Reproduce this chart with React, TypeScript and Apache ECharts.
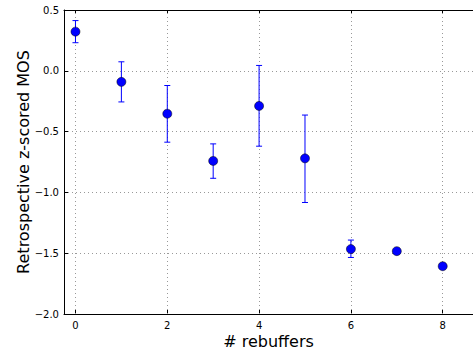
import React, { useEffect, useRef } from "react";
import * as echarts from "echarts";

const rebuffers = [0, 1, 2, 3, 4, 5, 6, 7, 8];
const meanMos = [0.322, -0.091, -0.353, -0.741, -0.289, -0.72, -1.466, -1.483, -1.607];
const errLow = [0.231, -0.256, -0.587, -0.884, -0.62, -1.083, -1.535, -1.5, -1.617];
const errHigh = [0.413, 0.074, -0.121, -0.601, 0.044, -0.364, -1.392, -1.466, -1.597];
const xTicks = [0, 2, 4, 6, 8];

const FONT = "DejaVu Sans";
const fmt = (v: number) => v.toFixed(1).replace("-", "\u2212");

export default function App() {
  const ref = useRef<HTMLDivElement>(null);
  useEffect(() => {
    if (!ref.current) return;
    const chart = echarts.init(ref.current, null, { renderer: "svg" });
    const points = rebuffers.map((x, i) => [x, meanMos[i]]);
    const bars = rebuffers.map((x, i) => [x, errLow[i], errHigh[i]]);
    chart.setOption({
      animation: false,
      backgroundColor: "#ffffff",
      textStyle: { fontFamily: FONT },
      grid: { left: 64, top: 10, right: 0, bottom: 37, outerBoundsMode: "none", containLabel: false },
      xAxis: [
        {
          type: "value",
          min: -0.25,
          max: 8.66,
          name: "# rebuffers",
          nameLocation: "middle",
          nameGap: 19,
          nameMoveOverlap: false,
          nameTextStyle: { fontFamily: FONT, fontSize: 16, color: "#000" },
          axisLine: { show: true, onZero: false, lineStyle: { color: "#000", width: 1 } },
          axisTick: { show: true, inside: true, length: 4, customValues: xTicks, lineStyle: { color: "#000" } },
          axisLabel: { show: true, customValues: xTicks, formatter: (v: number) => String(v), color: "#000", fontFamily: FONT, fontSize: 10, margin: 6 },
          splitLine: { show: false },
        },
        {
          type: "value",
          position: "top",
          min: -0.25,
          max: 8.66,
          axisLine: { show: true, onZero: false, lineStyle: { color: "#000", width: 1 } },
          axisTick: { show: true, inside: true, length: 4, customValues: xTicks, lineStyle: { color: "#000" } },
          axisLabel: { show: false },
          splitLine: { show: false },
        },
      ],
      yAxis: {
        type: "value",
        min: -2.0,
        max: 0.5,
        interval: 0.5,
        name: "Retrospective z-scored MOS",
        nameLocation: "middle",
        nameRotate: 90,
        nameGap: 33,
        nameMoveOverlap: false,
        nameTextStyle: { fontFamily: FONT, fontSize: 16, color: "#000" },
        axisLine: { show: true, onZero: false, lineStyle: { color: "#000", width: 1 } },
        axisTick: { show: true, inside: true, length: 4, lineStyle: { color: "#000" } },
        axisLabel: { formatter: (v: number) => fmt(v), color: "#000", fontFamily: FONT, fontSize: 10, margin: 5 },
        splitLine: { show: true, lineStyle: { color: "#999", type: [1, 3], width: 1 } },
      },
      series: [
        {
          type: "custom",
          xAxisIndex: 0,
          data: bars,
          silent: true,
          z: 2,
          renderItem: (params: any, api: any) => {
            const x = api.value(0);
            const lo = api.coord([x, api.value(1)]);
            const hi = api.coord([x, api.value(2)]);
            const cap = 3;
            const style = { stroke: "#0000ff", lineWidth: 1 };
            return {
              type: "group",
              children: [
                { type: "line", shape: { x1: lo[0], y1: lo[1], x2: hi[0], y2: hi[1] }, style },
                { type: "line", shape: { x1: lo[0] - cap, y1: lo[1], x2: lo[0] + cap, y2: lo[1] }, style },
                { type: "line", shape: { x1: hi[0] - cap, y1: hi[1], x2: hi[0] + cap, y2: hi[1] }, style },
              ],
            };
          },
        },
        {
          type: "scatter",
          xAxisIndex: 0,
          data: points,
          symbol: "circle",
          symbolSize: 9,
          itemStyle: { color: "#0000ff", borderColor: "#000", borderWidth: 0.5, opacity: 1 },
          z: 3,
          markLine: {
            silent: true,
            symbol: "none",
            label: { show: false },
            lineStyle: { color: "#999", type: [1, 3], width: 1 },
            data: xTicks.map((v) => ({ xAxis: v })),
            z: 1,
          },
        },
      ],
    });
    return () => chart.dispose();
  }, []);
  return <div ref={ref} style={{ position: "fixed", left: 0, top: 0, width: 473, height: 351 }} />;
}
